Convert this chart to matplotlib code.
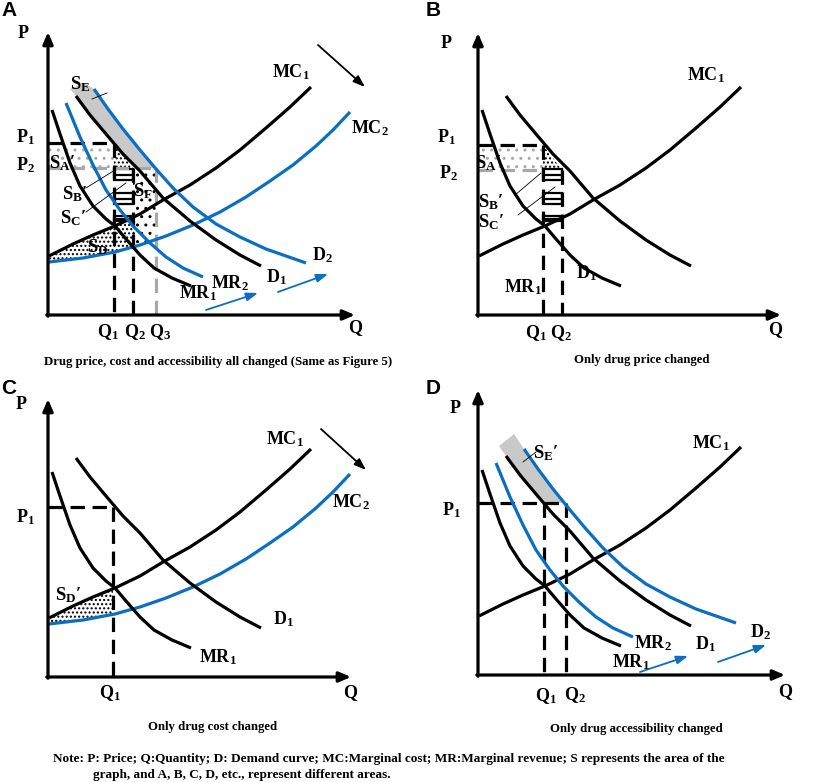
import numpy as np
import matplotlib
matplotlib.use("Agg")
import matplotlib.pyplot as plt
from matplotlib.patches import Rectangle

plt.rcParams['font.family'] = ['Liberation Serif', 'DejaVu Serif']
plt.rcParams['font.weight'] = 'bold'
plt.rcParams['mathtext.fontset'] = 'custom'
plt.rcParams['mathtext.rm'] = 'Liberation Serif:bold'
plt.rcParams['mathtext.it'] = 'Liberation Serif:bold'
plt.rcParams['mathtext.bf'] = 'Liberation Serif:bold'
plt.rcParams['hatch.linewidth'] = 1.0

# schematic curves (Q, P), shared by the four panels
MC1_Q = np.array([1, 25, 45, 67, 92, 115, 142, 168, 192, 218, 242, 263])
MC1_P = np.array([59, 71, 80, 89, 101, 115, 130, 147, 165, 187, 208, 228])
MC2_Q = np.array([1, 35, 67, 92, 118, 145, 172, 198, 222, 245, 268, 285, 302])
MC2_P = np.array([53, 57, 63, 70, 79, 90, 103, 118, 134, 150, 169, 185, 203])
MR1_Q = np.array([4, 12, 22, 32, 45, 58, 67, 78, 92, 106, 124, 143])
MR1_P = np.array([205, 181, 152, 129, 109, 96, 89, 76, 60, 47, 37, 29])
MR2_Q = np.array([18, 32, 45, 58, 72, 85, 102, 118, 135, 155])
MR2_P = np.array([212, 178, 150, 125, 105, 89, 72, 58, 47, 38])
D1_Q = np.array([28, 42, 58, 75, 92, 115, 142, 168, 192, 213])
D1_P = np.array([219, 200, 181, 161, 144, 117, 94, 75, 60, 49])
D2_Q = np.array([46, 60, 75, 92, 108, 125, 145, 168, 192, 218, 258])
D2_P = np.array([226, 206, 186, 165, 146, 127, 108, 91, 78, 66, 52])

# price / quantity levels per panel
A_P1, A_P2, A_Q1, A_Q2, A_Q3 = 172, 147, 66, 85, 108
B_P1, B_P2, B_Q1, B_Q2 = 170, 145, 65, 84
C_P1, C_Q1 = 170, 65
D_P1, D_Q1, D_Q2 = 172, 66, 88

# top corner of the grey S_E band
A_CAP_Q, A_CAP_P = [22, 36], [226, 232]
D_CAP_Q, D_CAP_P = [21, 36], [229, 241]

# S_B' / S_C' boxes between Q1 and Q2 (top, bottom price)
BOX_TOP = [146, 122, 99]
BOX_BOT = [135, 111, 94]

BLUE = '#0a6fc2'
GREY = '#c9c9c9'
DGREY = '#a8a8a8'
W, H = 816, 782
LW = 2.3
FS = 13
FS_S = 13.5

fig = plt.figure(figsize=(W / 100, H / 100), dpi=100)


def panel(x0, y0, x1, y1, ox, oy):
    ax = fig.add_axes([x0 / W, 1 - y1 / H, (x1 - x0) / W, (y1 - y0) / H])
    ax.set_xlim(x0 - ox, x1 - ox)
    ax.set_ylim(oy - y1, oy - y0)
    ax.axis('off')
    return ax


def axes_arrows(ax, qmax, pmax):
    st = '-|>,head_length=0.7,head_width=0.3'
    ax.annotate('', xy=(0, pmax), xytext=(0, -1.2),
                arrowprops=dict(arrowstyle=st, lw=LW, color='k', shrinkA=0, shrinkB=0))
    ax.annotate('', xy=(qmax, 0), xytext=(-1.2, 0),
                arrowprops=dict(arrowstyle=st, lw=LW, color='k', shrinkA=0, shrinkB=0))


def arrow(ax, q0, p0, q1, p1, color):
    ax.annotate('', xy=(q1, p1), xytext=(q0, p0),
                arrowprops=dict(arrowstyle='-|>,head_length=0.7,head_width=0.25',
                                lw=1.3, color=color, shrinkA=0, shrinkB=0))


def curve(ax, q, p, color='k'):
    ax.plot(q, p, color=color, lw=LW, solid_joinstyle='round', solid_capstyle='butt')


def dash(ax, q, p, color='k'):
    ax.plot(q, p, color=color, lw=LW, dashes=(4.5, 2.4), dash_capstyle='butt')


def between(ax, qa, pa, qb, pb, q0, q1, **kw):
    qq = np.unique(np.concatenate([qa, qb, [q0, q1]]))
    qq = qq[(qq >= q0) & (qq <= q1)]
    ax.fill_between(qq, np.interp(qq, qa, pa), np.interp(qq, qb, pb), lw=0, **kw)


def band(ax, level, cap_q, cap_p):
    qa = np.interp(level, D1_P[::-1], D1_Q[::-1])
    qb = np.interp(level, D2_P[::-1], D2_Q[::-1])
    m1, m2 = D1_P > level, D2_P > level
    qs = [qa] + list(D1_Q[m1][::-1]) + cap_q + list(D2_Q[m2]) + [qb]
    ps = [level] + list(D1_P[m1][::-1]) + cap_p + list(D2_P[m2]) + [level]
    ax.fill(qs, ps, color=GREY, lw=0)


def boxes(ax, q1, q2):
    for top, bot in zip(BOX_TOP, BOX_BOT):
        ax.add_patch(Rectangle((q1, bot), q2 - q1, top - bot, facecolor='white',
                               edgecolor='k', lw=1.6, zorder=1.5))
        ax.plot([q1, q2], [(top + bot) / 2] * 2, color='k', lw=1.6, zorder=1.6)


def label(ax, q, p, s, size=FS):
    ax.text(q, p, s, ha='center', va='center', fontsize=size, clip_on=False, zorder=5)


def leader(ax, q, p):
    ax.plot(q, p, color='k', lw=0.6, zorder=4)


# ---------------- A ----------------
ax = panel(0, 0, 408, 370, 48, 315)
band(ax, A_P2, A_CAP_Q, A_CAP_P)
ax.fill_between([0, A_Q1], [A_P2, A_P2], [A_P1, A_P1], hatch='..', facecolor='none',
                edgecolor=DGREY, lw=0)
ax.fill([A_Q1, A_Q2, A_Q1], [A_P1, A_P2, A_P2], hatch='....', facecolor='none',
        edgecolor='k', lw=0)
between(ax, MC2_Q, MC2_P, [A_Q2, A_Q3], [A_P2, A_P2], A_Q2, A_Q3, hatch='..',
        facecolor='none', edgecolor='k')
between(ax, MC2_Q, MC2_P, MC1_Q, MC1_P, 0, A_Q2, hatch='....', facecolor='none', edgecolor='k')
dash(ax, [0, A_Q3], [A_P2, A_P2], DGREY)
dash(ax, [A_Q3, A_Q3], [A_P2, 0], DGREY)
boxes(ax, A_Q1, A_Q2)
dash(ax, [0, A_Q1], [A_P1, A_P1])
dash(ax, [A_Q1, A_Q1], [A_P1, 0])
dash(ax, [A_Q2, A_Q2], [A_P2, 0])
curve(ax, MC1_Q, MC1_P)
curve(ax, MC2_Q, MC2_P, BLUE)
curve(ax, MR1_Q, MR1_P)
curve(ax, MR2_Q, MR2_P, BLUE)
curve(ax, D1_Q, D1_P)
curve(ax, D2_Q, D2_P, BLUE)
axes_arrows(ax, 307, 283)
arrow(ax, 270, 270, 317, 228, 'k')
arrow(ax, 158, 5, 210, 22, BLUE)
arrow(ax, 230, 23, 280, 41, BLUE)
leader(ax, [44, 59], [216, 222])
leader(ax, [38, 67], [127, 145])
leader(ax, [38, 78], [103, 132])
label(ax, -25, 282, 'P')
label(ax, -23, 178, r'P$_1$')
label(ax, -23, 150, r'P$_2$')
label(ax, 60, -17, r'Q$_1$')
label(ax, 87, -17, r'Q$_2$')
label(ax, 112, -17, r'Q$_3$')
label(ax, 307, -13, 'Q')
label(ax, 243, 243, r'MC$_1$')
label(ax, 322, 187, r'MC$_2$')
label(ax, 228, 38, r'D$_1$')
label(ax, 274, 60, r'D$_2$')
label(ax, 150, 22, r'MR$_1$')
label(ax, 182, 32, r'MR$_2$')
label(ax, 32, 231, r'S$_\mathrm{E}$', FS_S)
label(ax, 14, 152, r'S$_\mathrm{A}$′', FS_S)
label(ax, 27, 121, r'S$_\mathrm{B}$′', FS_S)
label(ax, 25, 97, r'S$_\mathrm{C}$′', FS_S)
label(ax, 95, 124, r'S$_\mathrm{F}$', FS_S)
label(ax, 50, 68, r'S$_\mathrm{D}$', FS_S)

# ---------------- B ----------------
ax = panel(408, 0, 816, 370, 478, 315)
ax.fill_between([0, B_Q1], [B_P2, B_P2], [B_P1, B_P1], hatch='..', facecolor='none',
                edgecolor=DGREY, lw=0)
ax.fill([B_Q1, B_Q2, B_Q1], [B_P1, B_P2, B_P2], hatch='....', facecolor='none',
        edgecolor='k', lw=0)
dash(ax, [0, B_Q1], [B_P2, B_P2], DGREY)
boxes(ax, B_Q1, B_Q2)
dash(ax, [0, B_Q1], [B_P1, B_P1])
dash(ax, [B_Q1, B_Q1], [B_P1, 0])
dash(ax, [B_Q2, B_Q2], [B_P2, 0])
curve(ax, MC1_Q, MC1_P)
curve(ax, MR1_Q, MR1_P)
curve(ax, D1_Q, D1_P)
axes_arrows(ax, 303, 282)
leader(ax, [37, 63], [120, 142])
leader(ax, [40, 77], [100, 128])
label(ax, -32, 272, 'P')
label(ax, -32, 178, r'P$_1$')
label(ax, -30, 142, r'P$_2$')
label(ax, 58, -18, r'Q$_1$')
label(ax, 83, -18, r'Q$_2$')
label(ax, 297, -15, 'Q')
label(ax, 228, 240, r'MC$_1$')
label(ax, 108, 42, r'D$_1$')
label(ax, 45, 28, r'MR$_1$')
label(ax, 10, 152, r'S$_\mathrm{A}$′', FS_S)
label(ax, 13, 113, r'S$_\mathrm{B}$′', FS_S)
label(ax, 13, 93, r'S$_\mathrm{C}$′', FS_S)

# ---------------- C ----------------
ax = panel(0, 370, 408, 745, 48, 677)
between(ax, MC2_Q, MC2_P, MC1_Q, MC1_P, 0, C_Q1, hatch='....', facecolor='none', edgecolor='k')
dash(ax, [0, C_Q1], [C_P1, C_P1])
dash(ax, [C_Q1, C_Q1], [C_P1, 0])
curve(ax, MC1_Q, MC1_P)
curve(ax, MC2_Q, MC2_P, BLUE)
curve(ax, MR1_Q, MR1_P)
curve(ax, D1_Q, D1_P)
axes_arrows(ax, 303, 278)
arrow(ax, 273, 248, 318, 207, 'k')
label(ax, -27, 273, 'P')
label(ax, -23, 160, r'P$_1$')
label(ax, 62, -16, r'Q$_1$')
label(ax, 302, -16, 'Q')
label(ax, 237, 238, r'MC$_1$')
label(ax, 303, 175, r'MC$_2$')
label(ax, 235, 58, r'D$_1$')
label(ax, 170, 20, r'MR$_1$')
label(ax, 20, 82, r'S$_\mathrm{D}$′', FS_S)

# ---------------- D ----------------
ax = panel(408, 370, 816, 745, 478, 675)
band(ax, D_P1, D_CAP_Q, D_CAP_P)
dash(ax, [0, D_Q2], [D_P1, D_P1])
dash(ax, [D_Q1, D_Q1], [D_P1, 0])
dash(ax, [D_Q2, D_Q2], [D_P1, 0])
curve(ax, MC1_Q, MC1_P)
curve(ax, MR1_Q, MR1_P)
curve(ax, MR2_Q, MR2_P, BLUE)
curve(ax, D1_Q, D1_P)
curve(ax, D2_Q, D2_P, BLUE)
axes_arrows(ax, 307, 285)
arrow(ax, 162, 3, 210, 19, BLUE)
arrow(ax, 240, 13, 288, 30, BLUE)
leader(ax, [45, 58], [213, 223])
label(ax, -23, 267, 'P')
label(ax, -27, 165, r'P$_1$')
label(ax, 68, -21, r'Q$_1$')
label(ax, 97, -20, r'Q$_2$')
label(ax, 307, -17, 'Q')
label(ax, 233, 232, r'MC$_1$')
label(ax, 175, 32, r'MR$_2$')
label(ax, 227, 31, r'D$_1$')
label(ax, 282, 43, r'D$_2$')
label(ax, 153, 13, r'MR$_1$')
label(ax, 68, 222, r'S$_\mathrm{E}$′', FS_S)

# panel letters, captions, note
for s, x, y in [('A', 9, 11), ('B', 433, 11), ('C', 9, 388), ('D', 433, 388)]:
    fig.text(x / W, 1 - y / H, s, ha='center', va='center', fontsize=15,
             family='Liberation Sans', weight='bold')
caps = [('Drug price, cost and accessibility all changed (Same as Figure 5)', 218, 362),
        ('Only drug price changed', 642, 360),
        ('Only drug cost changed', 213, 727),
        ('Only drug accessibility changed', 636, 729)]
for s, x, y in caps:
    fig.text(x / W, 1 - y / H, s, ha='center', va='center', fontsize=9.2)
fig.text(53 / W, 1 - 759 / H, 'Note: P: Price; Q:Quantity; D: Demand curve; MC:Marginal cost; '
         'MR:Marginal revenue; S represents the area of the', ha='left', va='center', fontsize=9.5)
fig.text(93 / W, 1 - 775 / H, 'graph, and A, B, C, D, etc., represent different areas.',
         ha='left', va='center', fontsize=9.5)

fig.savefig('out.png', dpi=100, facecolor='white')
